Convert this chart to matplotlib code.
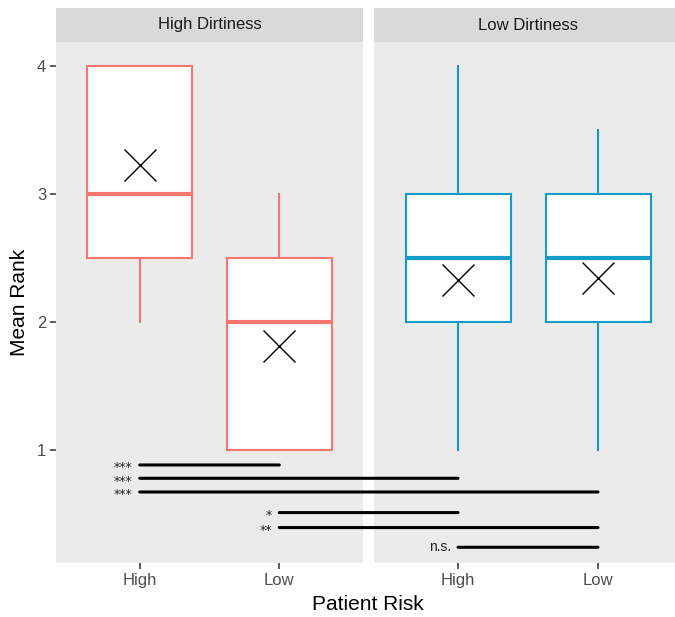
import matplotlib
matplotlib.use("Agg")
import matplotlib.pyplot as plt
from matplotlib.patches import ConnectionPatch

plt.rcParams["font.family"] = ["Liberation Sans", "DejaVu Sans"]

facets = ["High Dirtiness", "Low Dirtiness"]
risk = ["High", "Low"]
# per facet, per risk level
whis_lo = [[2.0, 1.0], [1.0, 1.0]]
q1 = [[2.5, 1.0], [2.0, 2.0]]
med = [[3.0, 2.0], [2.5, 2.5]]
q3 = [[4.0, 2.5], [3.0, 3.0]]
whis_hi = [[4.0, 3.0], [4.0, 3.5]]
means = [[3.23, 1.81], [2.33, 2.34]]
colors = ["#F8766D", "#129DC8"]
yticks = [1, 2, 3, 4]

# comparisons: (facet_a, risk_a, facet_b, risk_b, y, label)
comp_fa = [0, 0, 0, 0, 0, 1]
comp_ra = [0, 0, 0, 1, 1, 0]
comp_fb = [0, 1, 1, 1, 1, 1]
comp_rb = [1, 0, 1, 0, 1, 1]
comp_y = [0.883, 0.779, 0.672, 0.511, 0.394, 0.240]
comp_lab = ["***", "***", "***", "*", "**", "n.s."]

W, H = 675, 617
fig = plt.figure(figsize=(W / 100, H / 100), dpi=100)

def fx(px):
    return px / W

def fy(py):
    return 1 - py / H

panel_l = [56, 374]
panel_w = [307, 308]
top, bot = 42, 563
axes = []
for i in range(2):
    ax = fig.add_axes([fx(panel_l[i]), fy(bot), panel_w[i] / W, (bot - top) / H])
    ax.set_facecolor("#EBEBEB")
    for s in ax.spines.values():
        s.set_visible(False)
    stats = []
    for j in range(2):
        stats.append(dict(whislo=whis_lo[i][j], q1=q1[i][j], med=med[i][j],
                          q3=q3[i][j], whishi=whis_hi[i][j], fliers=[]))
    ax.bxp(stats, positions=[1, 2], widths=0.75, showfliers=False, showcaps=False,
           patch_artist=True,
           boxprops=dict(facecolor="white", edgecolor=colors[i], linewidth=1.5),
           whiskerprops=dict(color=colors[i], linewidth=1.5),
           medianprops=dict(color=colors[i], linewidth=3, solid_capstyle="butt"))
    ax.plot([1, 2], means[i], linestyle="none", marker="x", markersize=23,
            markeredgewidth=1.0, color="black", zorder=5)
    ax.set_xlim(0.4, 2.6)
    ax.set_ylim(1 - 113 / 128, 4 + 24 / 128)
    ax.set_xticks([1, 2])
    ax.set_xticklabels(risk, fontsize=12, color="#4D4D4D")
    ax.set_yticks(yticks)
    if i == 0:
        ax.set_yticklabels([str(v) for v in yticks], fontsize=12, color="#4D4D4D")
        ax.set_ylabel("Mean Rank", fontsize=15, color="black", labelpad=6)
    else:
        ax.tick_params(axis="y", left=False, labelleft=False)
    ax.tick_params(axis="both", color="#333333", length=4, width=1.1, pad=3)
    axes.append(ax)

    sax = fig.add_axes([fx(panel_l[i]), fy(top), panel_w[i] / W, 34 / H])
    sax.set_facecolor("#D9D9D9")
    sax.set_xticks([]); sax.set_yticks([])
    for s in sax.spines.values():
        s.set_visible(False)
    sax.text(0.5, 0.5, facets[i], transform=sax.transAxes, ha="center",
             va="center", fontsize=12, color="#1A1A1A")

fig.text(fx(368), fy(605), "Patient Risk", ha="center", va="center", fontsize=15)

for k in range(len(comp_y)):
    axa = axes[comp_fa[k]]
    axb = axes[comp_fb[k]]
    xa = comp_ra[k] + 1
    xb = comp_rb[k] + 1
    con = ConnectionPatch(xyA=(xa, comp_y[k]), coordsA=axa.transData,
                          xyB=(xb, comp_y[k]), coordsB=axb.transData,
                          color="black", linewidth=2.2, zorder=10)
    fig.add_artist(con)
    is_star = "*" in comp_lab[k]
    if is_star:
        axa.annotate(comp_lab[k], xy=(xa, comp_y[k]), xytext=(-5, -2),
                     textcoords="offset points", ha="right", va="center",
                     fontsize=9, family="DejaVu Sans", color="#222222",
                     annotation_clip=False)
    else:
        axa.annotate(comp_lab[k], xy=(xa, comp_y[k]), xytext=(-5, 0),
                     textcoords="offset points", ha="right", va="center",
                     fontsize=10, color="#222222", annotation_clip=False)

fig.savefig("out.png", dpi=100)
